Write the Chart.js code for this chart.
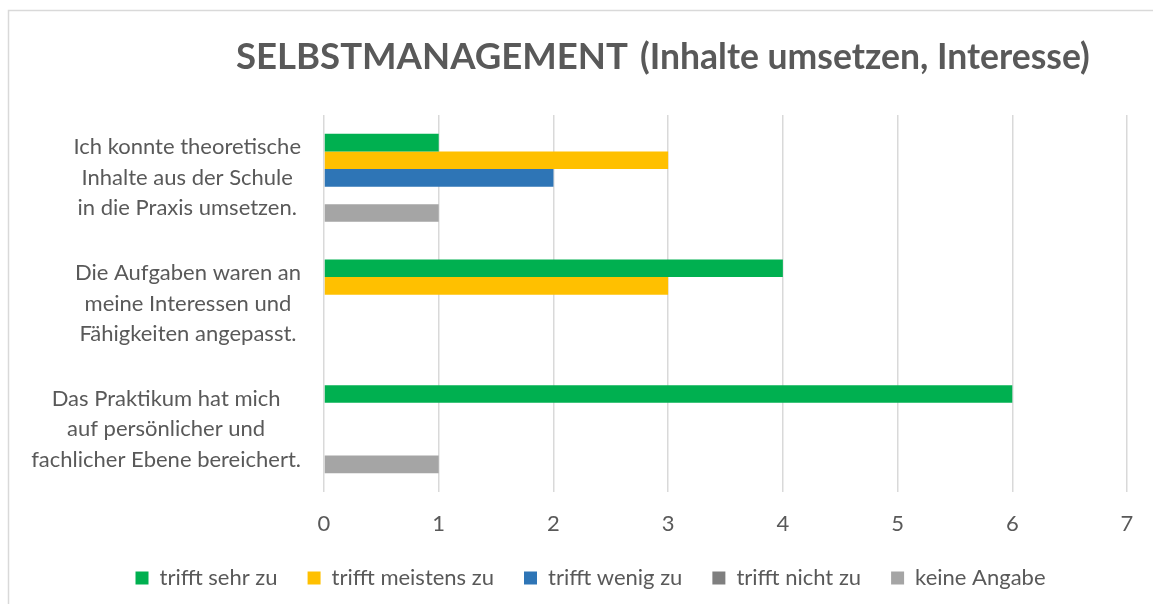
<!DOCTYPE html>
<html>
<head>
<meta charset="utf-8">
<script src="https://cdn.jsdelivr.net/npm/chart.js@4/dist/chart.umd.min.js"></script>
<style>
  html,body{margin:0;padding:0;background:#fff;}
  #wrap{width:1153px;height:604px;position:relative;}
</style>
</head>
<body>
<div id="wrap"><canvas id="grafico" width="1153" height="604"></canvas></div>
<script>
// Daten
const kategorien=[
  ["Ich konnte theoretische","Inhalte aus der Schule","in die Praxis umsetzen."],
  ["Die Aufgaben waren an","meine Interessen und","Fähigkeiten angepasst."],
  ["Das Praktikum hat mich","auf persönlicher und","fachlicher Ebene bereichert."]
];
const serien=["trifft sehr zu","trifft meistens zu","trifft wenig zu","trifft nicht zu","keine Angabe"];
const sehrZu=[1,4,6];
const meistensZu=[3,3,0];
const wenigZu=[2,0,0];
const nichtZu=[0,0,0];
const keineAngabe=[1,0,1];
const xTicks=[0,1,2,3,4,5,6,7];
const farben=["#00B050","#FFC000","#2E75B6","#7F7F7F","#A5A5A5"];

const textFarbe="#595959";
const schrift="Lato, 'Open Sans', sans-serif";

// Titel, Rahmen, Achsenbeschriftung
const extras={
  id:"extras",
  beforeDraw(chart){
    const c=chart.ctx;
    c.save();
    c.strokeStyle="#d9d9d9";
    c.lineWidth=1.5;
    c.strokeRect(8.5,10.5,1200,700);
    c.restore();
  },
  afterDraw(chart){
    const c=chart.ctx;
    c.save();
    c.fillStyle=textFarbe;
    c.textBaseline="alphabetic";
    // Haupttitel
    let t1="SELBSTMANAGEMENT";
    c.font="bold 38px "+schrift;
    let s1=38*392/c.measureText(t1).width;
    c.font="bold "+s1+"px "+schrift;
    c.fillText(t1,236,69);
    let t2="(Inhalte umsetzen, Interesse)";
    c.font="bold 30px "+schrift;
    let s2=30*450/c.measureText(t2).width;
    c.font="bold "+s2+"px "+schrift;
    c.fillText(t2,640,69);
    // y-Beschriftung
    const y=chart.scales.y;
    c.font="22px "+schrift;
    c.textAlign="center";
    c.textBaseline="middle";
    kategorien.forEach((zeilen,i)=>{
      const mitte=y.getPixelForValue(i);
      const breite=Math.max(...zeilen.map(z=>c.measureText(z).width));
      const cx=301-breite/2;
      zeilen.forEach((z,k)=>{
        c.fillText(z,cx,mitte+(k-(zeilen.length-1)/2)*30.5);
      });
    });
    c.restore();
  }
};

const werte=[sehrZu,meistensZu,wenigZu,nichtZu,keineAngabe];
new Chart(document.getElementById("grafico"),{
  type:"bar",
  data:{
    labels:kategorien,
    datasets:serien.map((s,i)=>({label:s,data:werte[i],backgroundColor:farben[i],borderWidth:0,categoryPercentage:0.7,barPercentage:1}))
  },
  options:{
    indexAxis:"y",
    responsive:false,
    animation:false,
    layout:{padding:{top:115,right:26,left:54,bottom:5}},
    scales:{
      x:{
        min:0,max:7,
        afterBuildTicks(scale){scale.ticks=xTicks.map(v=>({value:v}));},
        afterFit(scale){scale.height=45;},
        grid:{color:"#d9d9d9",lineWidth:1.5,drawTicks:false},
        border:{display:false},
        ticks:{padding:19,color:textFarbe,font:{family:schrift,size:22}}
      },
      y:{
        afterFit(scale){scale.width=270;},
        grid:{display:false},
        border:{display:false},
        ticks:{display:false}
      }
    },
    plugins:{
      legend:{
        position:"bottom",
        labels:{boxWidth:13,boxHeight:13,padding:30,color:textFarbe,font:{family:schrift,size:22}}
      },
      tooltip:{enabled:false}
    }
  },
  plugins:[extras]
});
</script>
</body>
</html>
